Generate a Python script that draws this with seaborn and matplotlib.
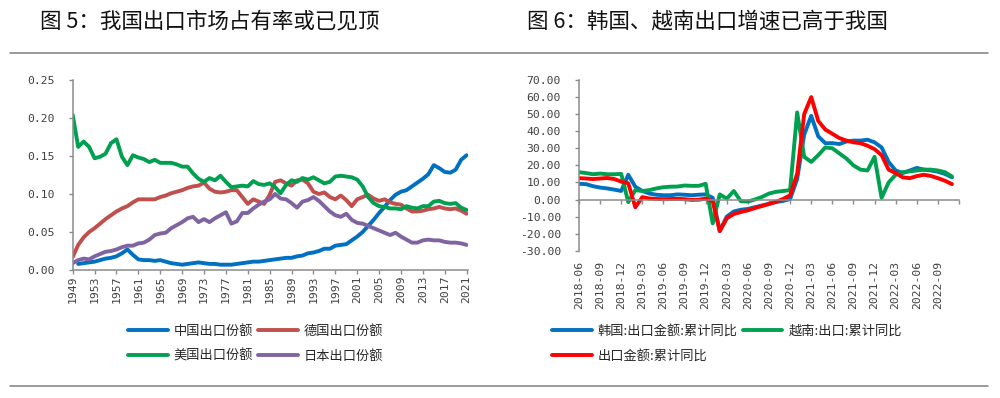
import numpy as np
import pandas as pd
import matplotlib
matplotlib.use("Agg")
import matplotlib.pyplot as plt
import seaborn as sns
from matplotlib.lines import Line2D
from matplotlib.ticker import FuncFormatter

# ---------------- data: left chart (export market share) ----------------
years = list(range(1949, 2022))
china_share = [np.nan, 0.008, 0.009, 0.010, 0.011, 0.013, 0.015, 0.016, 0.018, 0.022,
               0.027, 0.020, 0.014, 0.013, 0.013, 0.012, 0.013, 0.011, 0.009, 0.008,
               0.007, 0.008, 0.009, 0.010, 0.009, 0.008, 0.008, 0.007, 0.007, 0.007,
               0.008, 0.009, 0.010, 0.011, 0.011, 0.012, 0.013, 0.014, 0.015, 0.016,
               0.016, 0.018, 0.019, 0.022, 0.023, 0.025, 0.028, 0.028, 0.032, 0.033,
               0.034, 0.039, 0.044, 0.050, 0.058, 0.066, 0.075, 0.083, 0.092, 0.099,
               0.103, 0.105, 0.110, 0.115, 0.120, 0.126, 0.138, 0.134, 0.129, 0.128,
               0.132, 0.145, 0.151]
germany_share = [0.017, 0.033, 0.043, 0.050, 0.055, 0.061, 0.067, 0.072, 0.077, 0.081,
                 0.084, 0.089, 0.093, 0.093, 0.093, 0.093, 0.096, 0.098, 0.101, 0.103,
                 0.105, 0.108, 0.110, 0.111, 0.115, 0.107, 0.103, 0.102, 0.103, 0.105,
                 0.105, 0.096, 0.087, 0.093, 0.090, 0.087, 0.099, 0.116, 0.118, 0.114,
                 0.111, 0.118, 0.119, 0.114, 0.103, 0.100, 0.102, 0.096, 0.093, 0.098,
                 0.092, 0.084, 0.093, 0.096, 0.099, 0.094, 0.091, 0.093, 0.089, 0.087,
                 0.086, 0.081, 0.077, 0.077, 0.078, 0.080, 0.081, 0.083, 0.081, 0.080,
                 0.081, 0.078, 0.074]
us_share = [0.204, 0.162, 0.169, 0.162, 0.147, 0.149, 0.153, 0.167, 0.172, 0.149,
            0.138, 0.151, 0.148, 0.146, 0.142, 0.145, 0.141, 0.141, 0.141, 0.139,
            0.136, 0.136, 0.127, 0.120, 0.116, 0.121, 0.118, 0.124, 0.116, 0.109,
            0.110, 0.111, 0.110, 0.117, 0.113, 0.112, 0.114, 0.109, 0.101, 0.112,
            0.118, 0.116, 0.121, 0.119, 0.122, 0.118, 0.114, 0.116, 0.123, 0.124,
            0.123, 0.122, 0.119, 0.110, 0.096, 0.088, 0.084, 0.083, 0.081, 0.081,
            0.080, 0.084, 0.082, 0.081, 0.084, 0.084, 0.090, 0.091, 0.088, 0.087,
            0.088, 0.082, 0.079]
japan_share = [0.009, 0.013, 0.015, 0.014, 0.018, 0.021, 0.024, 0.025, 0.027, 0.030,
               0.032, 0.032, 0.035, 0.036, 0.040, 0.046, 0.048, 0.049, 0.055, 0.059,
               0.063, 0.068, 0.070, 0.063, 0.067, 0.063, 0.068, 0.072, 0.076, 0.061,
               0.064, 0.075, 0.075, 0.081, 0.086, 0.090, 0.093, 0.100, 0.094, 0.093,
               0.088, 0.082, 0.090, 0.092, 0.096, 0.091, 0.084, 0.077, 0.072, 0.070,
               0.074, 0.066, 0.062, 0.061, 0.058, 0.055, 0.052, 0.049, 0.046, 0.049,
               0.044, 0.040, 0.036, 0.036, 0.039, 0.040, 0.039, 0.039, 0.037, 0.036,
               0.036, 0.035, 0.033]
left_names = ["中国出口份额", "德国出口份额", "美国出口份额", "日本出口份额"]
left_colors = ["#0070C0", "#C0504D", "#00A050", "#8064A2"]

# ---------------- data: right chart (cumulative YoY export growth) ----------------
months = [f"{y}-{m:02d}" for y in range(2018, 2023) for m in range(1, 13)]
months = months[months.index("2018-06"):months.index("2022-11") + 1]
korea_yoy = [9.2, 9.0, 7.8, 7.0, 6.5, 5.8, 5.0, 14.5, 7.5, 5.0,
             3.5, 2.8, 2.5, 2.5, 3.0, 2.8, 2.5, 2.8, 3.0, 1.0,
             -18.5, -10.0, -7.0, -6.0, -5.5, -4.5, -3.5, -2.5, -1.5, -0.8,
             0.3, 12.0, 38.0, 49.0, 37.0, 33.0, 33.0, 32.5, 34.0, 34.5,
             34.5, 35.0, 33.5, 30.5, 22.0, 17.0, 15.5, 17.0, 18.5, 17.5,
             17.0, 16.3, 15.0, 13.0]
vietnam_yoy = [16.0, 15.5, 14.8, 15.2, 14.8, 14.8, 15.0, -1.5, 5.5, 5.0,
               5.5, 6.5, 7.2, 7.5, 7.6, 8.2, 8.0, 8.0, 9.2, -14.0,
               3.0, 0.5, 5.0, -1.0, -1.2, 0.0, 1.5, 3.5, 4.5, 5.0,
               5.5, 51.0, 25.0, 22.0, 26.0, 30.5, 30.0, 27.0, 24.0, 20.0,
               17.5, 17.0, 25.0, 1.0, 10.0, 14.5, 16.0, 16.5, 17.0, 17.5,
               17.5, 17.0, 16.0, 13.5]
china_yoy = [12.5, 12.3, 12.0, 12.3, 12.6, 12.0, 10.5, 9.5, -4.5, 1.4,
             0.6, 0.3, 0.2, 0.3, 0.4, 0.2, -0.2, -0.1, 0.5, -1.0,
             -18.5, -11.0, -8.5, -7.3, -6.3, -5.0, -3.8, -2.6, -1.3, 0.3,
             2.5, 15.0, 50.0, 60.0, 46.0, 41.0, 38.5, 36.0, 34.5, 33.5,
             33.0, 31.5, 29.5, 26.0, 17.5, 15.5, 13.0, 12.5, 13.7, 14.5,
             13.8, 12.5, 11.0, 9.0]
right_names = ["韩国:出口金额:累计同比", "越南:出口:累计同比", "出口金额:累计同比"]
right_colors = ["#0070C0", "#00A050", "#FF0000"]

# ---------------- style ----------------
sns.set_theme(style="white")
plt.rcParams["font.family"] = ["Noto Sans CJK SC", "DejaVu Sans"]
plt.rcParams["axes.unicode_minus"] = False
MONO = ["DejaVu Sans Mono", "DejaVu Sans"]
SPINE = "#8C8C8C"
TICKTXT = "#404040"
LW = 2.8

fig = plt.figure(figsize=(10, 3.98), dpi=100)
ax1 = fig.add_axes([0.0727, 0.3216, 0.468 - 0.0727, 0.799 - 0.3216])
ax2 = fig.add_axes([0.579, 0.370, 0.959 - 0.579, 0.799 - 0.370])

# ---- left chart ----
left_df = pd.DataFrame({"year": years, left_names[0]: china_share,
                        left_names[1]: germany_share, left_names[2]: us_share,
                        left_names[3]: japan_share})
for name, col in zip(left_names, left_colors):
    sns.lineplot(data=left_df, x="year", y=name, color=col, lw=LW, ax=ax1,
                 legend=False, solid_capstyle="round", solid_joinstyle="round")

# ---- right chart ----
idx = list(range(len(months)))
right_df = pd.DataFrame({"idx": idx, right_names[0]: korea_yoy,
                         right_names[1]: vietnam_yoy, right_names[2]: china_yoy})
for name, col in zip(right_names, right_colors):
    sns.lineplot(data=right_df, x="idx", y=name, color=col, lw=LW, ax=ax2,
                 legend=False, solid_capstyle="round", solid_joinstyle="round")
ax2.spines["bottom"].set_position(("data", 0))

for ax in (ax1, ax2):
    for s in ("top", "right"):
        ax.spines[s].set_visible(False)
    for s in ("left", "bottom"):
        ax.spines[s].set_color(SPINE)
        ax.spines[s].set_linewidth(1.1)
    ax.tick_params(axis="both", which="major", direction="out", length=3,
                   width=1.0, color=SPINE, labelcolor=TICKTXT, labelsize=8.2,
                   bottom=True, left=True)
    ax.grid(False)
    ax.set_facecolor("none")
    ax.set_xlabel("")
    ax.set_ylabel("")

ax1.set_xlim(1949, 2021.25)
ax1.set_ylim(0, 0.25)
ax1.set_xticks(years[::4])
ax1.set_xticklabels([str(y) for y in years[::4]], rotation=90, family=MONO)
ax1.set_yticks([0, 0.05, 0.10, 0.15, 0.20, 0.25])
ax1.yaxis.set_major_formatter(FuncFormatter(lambda v, p: f"{v:.2f}"))

ax2.set_xlim(0, 54)
ax2.set_ylim(-30, 70)
ax2.set_yticks(range(-30, 71, 10))
ax2.yaxis.set_major_formatter(FuncFormatter(lambda v, p: f"{v:.2f}"))
tick_pos = list(range(0, 55, 3))
tick_lab = [months[i] if i < len(months) else "" for i in tick_pos]
ax2.set_xticks(tick_pos)
ax2.set_xticklabels(tick_lab, rotation=90, family=MONO)

ax1.tick_params(axis="y", pad=10)
ax1.tick_params(axis="x", pad=1)
ax2.tick_params(axis="y", pad=10)
ax2.tick_params(axis="x", pad=41)
for ax in (ax1, ax2):
    for lab in ax.get_yticklabels():
        lab.set_family(MONO)

# ---- titles & rules ----
fig.text(0.040, 1 - 21.5 / 398, "图 5：我国出口市场占有率或已见顶", fontsize=15.5,
         ha="left", va="center", color="#111111")
fig.text(0.527, 1 - 21.5 / 398, "图 6：韩国、越南出口增速已高于我国", fontsize=15.5,
         ha="left", va="center", color="#111111")
for yy in (1 - 52.7 / 398, 1 - 386 / 398):
    fig.add_artist(Line2D([0.010, 0.988], [yy, yy], transform=fig.transFigure,
                          color="#7F7F7F", lw=1.1))

# ---- legends ----
def handles_for(colors):
    return [Line2D([0], [0], color=c, lw=LW, solid_capstyle="round") for c in colors]

leg_kw = dict(loc="upper left", ncol=2, frameon=False,
              prop={"family": ["Noto Sans CJK SC", "DejaVu Sans"], "size": 9.5},
              handlelength=3.0, handletextpad=0.45, columnspacing=0.4,
              labelspacing=0.9, borderpad=0, borderaxespad=0, labelcolor="#262626")

lh = handles_for(left_colors)
order_l = [0, 2, 1, 3]
fig.legend([lh[i] for i in order_l], [left_names[i] for i in order_l],
           bbox_to_anchor=(0.128, 1 - 325 / 398), **leg_kw)

rh = handles_for(right_colors)
order_r = [0, 2, 1]
fig.legend([rh[i] for i in order_r], [right_names[i] for i in order_r],
           bbox_to_anchor=(0.552, 1 - 325 / 398), **leg_kw)

fig.savefig("out.png", dpi=100, facecolor="white")
